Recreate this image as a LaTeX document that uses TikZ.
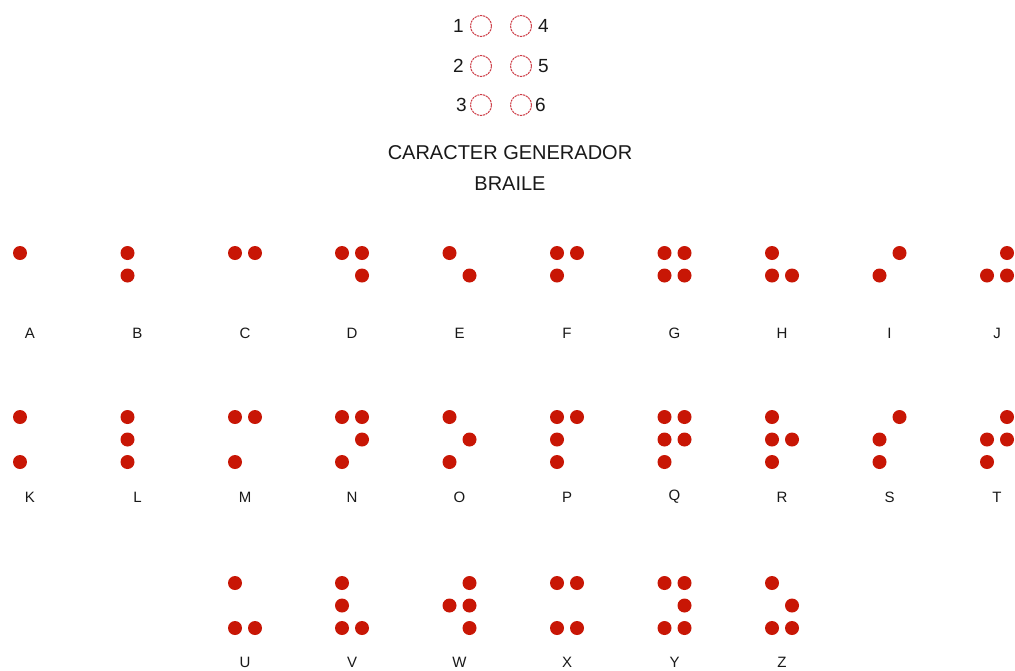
\documentclass[tikz,border=0pt]{standalone}
\usepackage{fontspec}
\setmainfont{Liberation Sans}
\usetikzlibrary{positioning}
\definecolor{dotred}{RGB}{200,22,5}
\definecolor{ringred}{RGB}{205,60,70}
\definecolor{txt}{RGB}{25,25,25}
\newcommand{\bcell}[5]{%
  \foreach \d in {#4} {%
    \pgfmathtruncatemacro{\colidx}{(\d>3)}%
    \pgfmathtruncatemacro{\rowidx}{mod(\d-1,3)}%
    \node[bdot] (#1-\d) at ({#2+20*\colidx},{#3+22.5*\rowidx}) {};
  }%
  \node[blabel] (lab-#1) at ({#2+10},#5) {#1};
}
\begin{document}
\begin{tikzpicture}[x=1pt,y=-1pt,
  bdot/.style={circle,inner sep=0pt,minimum size=14pt,fill=dotred},
  ring/.style={circle,inner sep=0pt,minimum size=21pt,draw=ringred,line width=1pt,dash pattern=on 2.2pt off 0.8pt},
  blabel/.style={font=\fontsize{15}{15}\selectfont,text=txt,inner sep=0pt},
  digit/.style={font=\fontsize{19}{19}\selectfont,text=txt,inner sep=0pt},
  title/.style={font=\fontsize{20}{24}\selectfont,text=txt,inner sep=0pt,align=center}]
\useasboundingbox[fill=white] (0,0) rectangle (1015,670);
% generator cell
\node[ring] (g1) at (481,26) {};
\node[ring] (g2) at (481,66) {};
\node[ring] (g3) at (481,105) {};
\node[ring] (g4) at (521,26) {};
\node[ring] (g5) at (521,66) {};
\node[ring] (g6) at (521,105) {};
\node[digit,left=6pt of g1] (d1) {1};
\node[digit,left=6pt of g2] (d2) {2};
\node[digit,left=3pt of g3] (d3) {3};
\node[digit,right=6pt of g4] (d4) {4};
\node[digit,right=6pt of g5] (d5) {5};
\node[digit,right=3pt of g6] (d6) {6};
\node[title] (t1) at (510,153) {CARACTER GENERADOR};
\node[title] (t2) at (510,184) {BRAILE};
% row 1
\bcell{A}{20}{253}{1}{333}
\bcell{B}{127.5}{253}{1,2}{333}
\bcell{C}{235}{253}{1,4}{333}
\bcell{D}{342}{253}{1,4,5}{333}
\bcell{E}{449.5}{253}{1,5}{333}
\bcell{F}{557}{253}{1,2,4}{333}
\bcell{G}{664.5}{253}{1,2,4,5}{333}
\bcell{H}{772}{253}{1,2,5}{333}
\bcell{I}{879.5}{253}{2,4}{333}
\bcell{J}{987}{253}{2,4,5}{333}
% row 2
\bcell{K}{20}{417}{1,3}{497}
\bcell{L}{127.5}{417}{1,2,3}{497}
\bcell{M}{235}{417}{1,3,4}{497}
\bcell{N}{342}{417}{1,3,4,5}{497}
\bcell{O}{449.5}{417}{1,3,5}{497}
\bcell{P}{557}{417}{1,2,3,4}{497}
\bcell{Q}{664.5}{417}{1,2,3,4,5}{497}
\bcell{R}{772}{417}{1,2,3,5}{497}
\bcell{S}{879.5}{417}{2,3,4}{497}
\bcell{T}{987}{417}{2,3,4,5}{497}
% row 3
\bcell{U}{235}{583}{1,3,6}{662}
\bcell{V}{342}{583}{1,2,3,6}{662}
\bcell{W}{449.5}{583}{2,4,5,6}{662}
\bcell{X}{557}{583}{1,3,4,6}{662}
\bcell{Y}{664.5}{583}{1,3,4,5,6}{662}
\bcell{Z}{772}{583}{1,3,5,6}{662}
\end{tikzpicture}
\end{document}
